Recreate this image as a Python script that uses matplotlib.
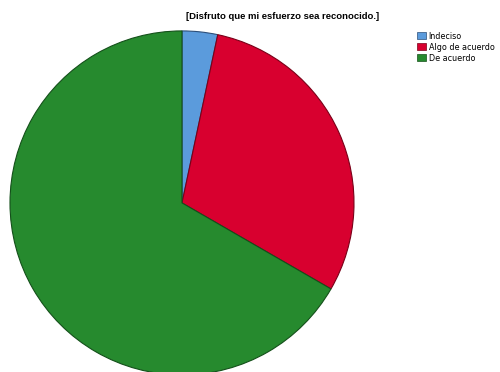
import matplotlib.pyplot as plt
from matplotlib.patches import Patch

# respuestas a la pregunta
categorias = ['Indeciso', 'Algo de acuerdo', 'De acuerdo']
frecuencias = [1, 9, 20]
colores = ['#5b9bdc', '#d8002f', '#268a2e']
bordes = ['#2c4f7a', '#7a0018', '#14501a']

fig = plt.figure(figsize=(5, 3.72), dpi=100)
fig.patch.set_facecolor('white')

ax = fig.add_axes([0.02, -0.008, 0.688, 0.925])
wedges, _ = ax.pie(frecuencias, colors=colores, startangle=90,
                   counterclock=False, radius=1.0,
                   wedgeprops=dict(linewidth=0.8))
for w, b in zip(wedges, bordes):
    w.set_edgecolor(b)
ax.set_xlim(-1, 1)
ax.set_ylim(-1, 1)
ax.set_aspect('equal')

fig.text(0.566, 0.955, '[Disfruto que mi esfuerzo sea reconocido.]',
         ha='center', va='center', fontsize=6.8, fontweight='bold',
         family='Liberation Sans')

handles = [Patch(facecolor=c, edgecolor=b, linewidth=0.5)
           for c, b in zip(colores, bordes)]
fig.legend(handles, categorias, loc='upper left',
           bbox_to_anchor=(0.834, 0.915), frameon=False,
           fontsize=5.8, handlelength=1.1, handleheight=1.0,
           handletextpad=0.35, labelspacing=0.25, borderaxespad=0,
           borderpad=0)

fig.savefig('out.png', dpi=100, facecolor='white')
